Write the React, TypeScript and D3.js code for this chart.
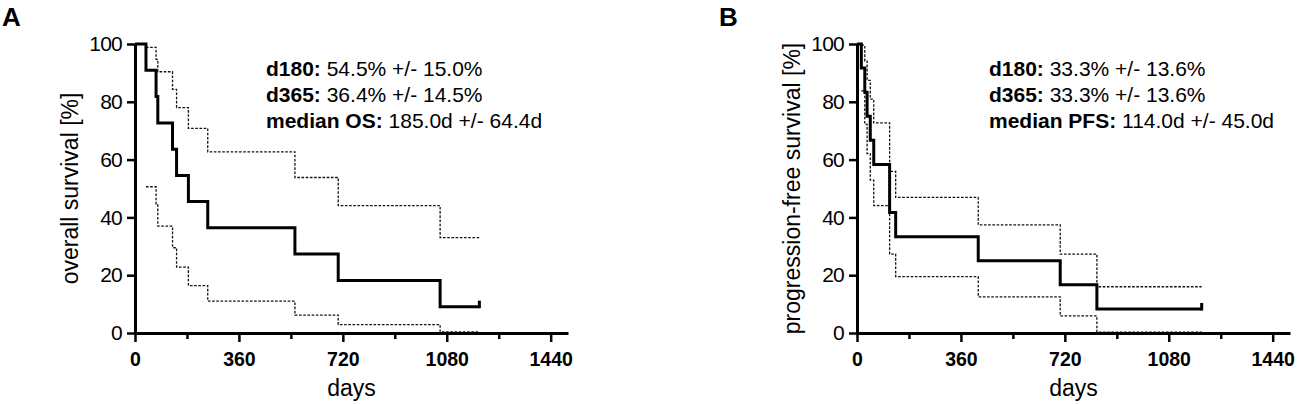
import { useEffect, useRef } from 'react';
import * as d3 from 'd3';

// Panel A: overall survival (Kaplan-Meier steps, % alive)
const osDays = [0, 38, 73, 79, 130, 144, 185, 252, 554, 704, 1057];
const osSurv = [100, 90.9, 81.8, 72.7, 63.6, 54.5, 45.5, 36.4, 27.3, 18.2, 9.1];
const osCiDays = [38, 73, 79, 130, 144, 185, 252, 554, 704, 1057];
const osUpper = [98.8, 94.7, 90.4, 84.3, 78.0, 70.8, 62.7, 53.8, 44.1, 33.0];
const osLower = [50.6, 44.6, 37.0, 29.5, 22.8, 16.4, 11.0, 6.2, 2.9, 0.4];
const osLastDay = 1193;

// Panel B: progression-free survival
const pfsDays = [0, 15, 27, 35, 46, 58, 113, 134, 420, 704, 831];
const pfsSurv = [100, 91.7, 83.3, 75.0, 66.7, 58.3, 41.7, 33.3, 25.0, 16.7, 8.3];
const pfsCiDays = [15, 27, 35, 46, 58, 113, 134, 420, 704, 831];
const pfsUpper = [99.6, 94.1, 87.4, 80.9, 72.7, 55.9, 46.9, 37.4, 27.3, 16.0];
const pfsLower = [83.8, 72.2, 62.1, 52.9, 44.1, 27.3, 19.5, 12.5, 5.9, 0.3];
const pfsLastDay = 1194;

const xMajorTicks = [0, 360, 720, 1080, 1440];
const xMinorTicks = [180, 540, 900, 1260];
const yTicks = [0, 20, 40, 60, 80, 100];

const osNotes = [
  ['d180:', ' 54.5% +/- 15.0%'],
  ['d365:', ' 36.4% +/- 14.5%'],
  ['median OS:', ' 185.0d +/- 64.4d'],
];
const pfsNotes = [
  ['d180:', ' 33.3% +/- 13.6%'],
  ['d365:', ' 33.3% +/- 13.6%'],
  ['median PFS:', ' 114.0d +/- 45.0d'],
];

const FONT = "'Liberation Sans', Arial, Helvetica, sans-serif";

interface PanelSpec {
  letter: string;
  letterX: number;
  left: number;
  yTitle: string;
  days: number[];
  surv: number[];
  ciDays: number[];
  upper: number[];
  lower: number[];
  lastDay: number;
  notes: string[][];
  noteX: number;
}

const panels: PanelSpec[] = [
  { letter: 'A', letterX: 2, left: 135, yTitle: 'overall survival [%]', days: osDays, surv: osSurv,
    ciDays: osCiDays, upper: osUpper, lower: osLower, lastDay: osLastDay, notes: osNotes, noteX: 266 },
  { letter: 'B', letterX: 719, left: 857, yTitle: 'progression-free survival [%]', days: pfsDays, surv: pfsSurv,
    ciDays: pfsCiDays, upper: pfsUpper, lower: pfsLower, lastDay: pfsLastDay, notes: pfsNotes, noteX: 989 },
];

function drawPanel(svg: d3.Selection<SVGSVGElement, unknown, null, undefined>, p: PanelSpec) {
  const top = 44;
  const bottom = 333;
  const x = d3.scaleLinear().domain([0, 1500]).range([p.left, p.left + 433]);
  const y = d3.scaleLinear().domain([0, 100]).range([bottom, top]);

  svg.append('text').attr('x', p.letterX).attr('y', 26).attr('font-size', 26).attr('font-weight', 'bold')
    .attr('font-family', FONT).text(p.letter);

  const step = d3.line<[number, number]>().x(d => x(d[0])).y(d => y(d[1])).curve(d3.curveStepAfter);

  const mkPts = (ds: number[], vs: number[]) => {
    const pts: [number, number][] = ds.map((d, i) => [d, vs[i]]);
    pts.push([p.lastDay, vs[vs.length - 1]]);
    return pts;
  };

  [p.upper, p.lower].forEach(arr => {
    svg.append('path').attr('d', step(mkPts(p.ciDays, arr)))
      .attr('fill', 'none').attr('stroke', '#111').attr('stroke-width', 1.3).attr('stroke-dasharray', '2.6,1.6');
  });

  svg.append('path').attr('d', step(mkPts(p.days, p.surv)))
    .attr('fill', 'none').attr('stroke', '#000').attr('stroke-width', 3).attr('stroke-linejoin', 'miter');

  // censor mark at the end of follow-up
  const lastS = p.surv[p.surv.length - 1];
  svg.append('line').attr('x1', x(p.lastDay)).attr('x2', x(p.lastDay))
    .attr('y1', y(lastS) + 1.5).attr('y2', y(lastS) - 6).attr('stroke', '#000').attr('stroke-width', 3);

  // x axis
  const xg = svg.append('g').attr('transform', 'translate(0,' + bottom + ')');
  xg.call(d3.axisBottom(x).tickValues(xMajorTicks).tickSize(9).tickSizeOuter(0).tickPadding(10)
    .tickFormat(d => String(d)));
  xg.select('.domain').attr('stroke-width', 3);
  xg.selectAll('.tick line').attr('stroke-width', 2.5);
  xg.selectAll('.tick text').attr('font-size', 19.5).attr('font-weight', 'bold').attr('font-family', FONT)
    .attr('fill', '#000');
  const xm = svg.append('g').attr('transform', 'translate(0,' + bottom + ')');
  xm.call(d3.axisBottom(x).tickValues(xMinorTicks).tickSize(6).tickSizeOuter(0).tickFormat(() => ''));
  xm.select('.domain').remove();
  xm.selectAll('.tick line').attr('stroke-width', 2.5);

  // y axis
  const yg = svg.append('g').attr('transform', 'translate(' + p.left + ',0)');
  yg.call(d3.axisLeft(y).tickValues(yTicks).tickSize(8).tickSizeOuter(0).tickPadding(5)
    .tickFormat(d => String(d)));
  yg.select('.domain').attr('stroke-width', 3);
  yg.selectAll('.tick line').attr('stroke-width', 2.5);
  yg.selectAll('.tick text').attr('font-size', 21).attr('font-family', FONT).attr('fill', '#000')
    .attr('letter-spacing', -0.8);

  svg.append('text').attr('x', (x.range()[0] + x.range()[1]) / 2).attr('y', 396).attr('text-anchor', 'middle')
    .attr('font-size', 23).attr('font-family', FONT).text('days');

  svg.append('text').attr('transform', 'translate(' + (p.left - 57) + ',' + (top + bottom) / 2 + ') rotate(-90)')
    .attr('text-anchor', 'middle').attr('font-size', 23).attr('font-family', FONT).text(p.yTitle);

  p.notes.forEach((n, i) => {
    const t = svg.append('text').attr('x', p.noteX).attr('y', 76 + i * 26)
      .attr('font-size', 21).attr('font-family', FONT);
    t.append('tspan').attr('font-weight', 'bold').text(n[0]);
    t.append('tspan').text(n[1]);
  });
}

export default function App() {
  const svgRef = useRef<SVGSVGElement>(null);

  useEffect(() => {
    if (!svgRef.current) return;
    d3.select('body').style('margin', '0');
    const svg = d3.select(svgRef.current);
    svg.selectAll('*').remove();
    panels.forEach(p => drawPanel(svg, p));
  }, []);

  return <svg ref={svgRef} width={1297} height={404} style={{ display: 'block', background: '#fff' }} />;
}
